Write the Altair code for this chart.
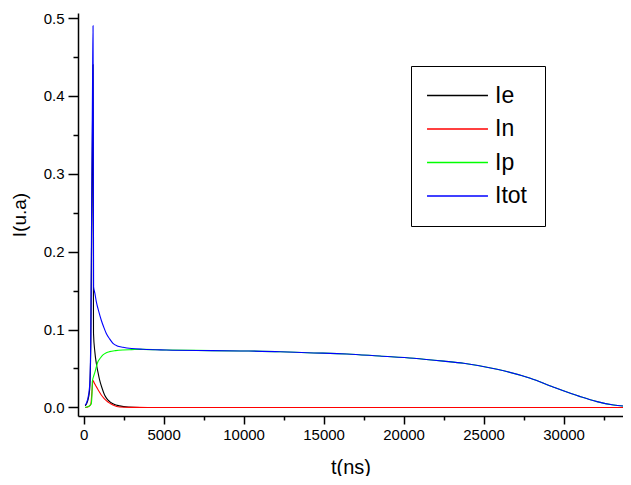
import altair as alt
import pandas as pd

# ---- data ----
t_ie = [100, 250, 375, 450, 500, 560, 590, 605, 620, 700, 794, 900, 1000, 1150, 1312, 1460,
        1625, 1900, 2250, 2800, 3500, 10000, 20000, 34200]
ie = [0.002, 0.008, 0.022, 0.08, 0.22, 0.37, 0.44, 0.25, 0.095, 0.072, 0.0567, 0.045, 0.0353,
      0.025, 0.016, 0.011, 0.0075, 0.004, 0.002, 0.0005, 0.0, 0.0, 0.0, 0.0]

t_in = [100, 300, 450, 520, 585, 700, 794, 950, 1106, 1262, 1419, 1625, 1835, 2250, 3000, 4000,
        10000, 20000, 34200]
inn = [0.0, 0.001, 0.004, 0.02, 0.0344, 0.030, 0.0267, 0.021, 0.016, 0.012, 0.0088, 0.0055,
       0.0032, 0.0006, 0.0001, 0.0, 0.0, 0.0, 0.0]

t_ip = [100, 250, 375, 480, 530, 544, 625, 690, 794, 900, 1050, 1212, 1419, 1625, 2000, 2460,
        3000, 3710, 5170, 8000, 10000, 12294, 14000, 16460, 18500, 20630, 22500, 23750, 25840,
        27920, 29380, 31040, 32090, 33125, 34170]
ip = [0.0, 0.001, 0.002, 0.005, 0.02, 0.033, 0.04, 0.044, 0.052, 0.0589, 0.0635, 0.0674, 0.0702,
      0.0717, 0.073, 0.0738, 0.0742, 0.0746, 0.0738, 0.073, 0.0725, 0.0716, 0.0703, 0.0687,
      0.066, 0.0632, 0.0595, 0.0567, 0.049, 0.0375, 0.026, 0.0139, 0.0075, 0.0032, 0.001]

t_tot = [100, 250, 375, 450, 500, 560, 590, 610, 625, 700, 794, 950, 1106, 1262, 1419, 1625,
         1835, 2100, 2460, 3000, 3710, 5170, 8000, 10000, 12294, 14000, 16460, 18500, 20630,
         22500, 23750, 25840, 27920, 29380, 31040, 32090, 33125, 34170]
itot = [0.003, 0.01, 0.027, 0.09, 0.25, 0.42, 0.49, 0.3, 0.155, 0.147, 0.136, 0.123, 0.112,
        0.103, 0.095, 0.088, 0.0824, 0.079, 0.0773, 0.0757, 0.0747, 0.0738, 0.073, 0.0725,
        0.0716, 0.0703, 0.0687, 0.066, 0.0632, 0.0595, 0.0567, 0.049, 0.0375, 0.026, 0.0139,
        0.0075, 0.0032, 0.001]

series_names = ["Ie", "In", "Ip", "Itot"]
series_colors = ["#000000", "#ff0000", "#00ff00", "#0000ff"]

x_ticks = [i * 2500 for i in range(14)]
y_ticks = [round(i * 0.05, 2) for i in range(11)]

rows = []
for k, (ts, vs) in enumerate([(t_ie, ie), (t_in, inn), (t_ip, ip), (t_tot, itot)]):
    for t, v in zip(ts, vs):
        rows.append({"t": t, "I": v, "series": series_names[k], "order": k})
df = pd.DataFrame(rows)

FONT = "Liberation Sans"

chart = alt.Chart(df).mark_line(strokeWidth=1.1, interpolate="monotone", clip=True).encode(
    x=alt.X("t:Q",
            scale=alt.Scale(domain=[-350, 33712], nice=False, zero=False),
            axis=alt.Axis(title="t(ns)", values=x_ticks, format="d",
                          labelExpr="datum.value % 5000 === 0 ? datum.label : ''",
                          tickSize={"expr": "datum.value % 5000 === 0 ? 8 : 4"},
                          grid=False, domainColor="black", tickColor="black",
                          domainWidth=1.5, tickWidth=1.5,
                          labelFont=FONT, labelFontSize=15, labelColor="black",
                          labelPadding=3, labelOverlap=False, labelFlush=False,
                          titleFont=FONT, titleFontSize=20, titleFontWeight="normal",
                          titleColor="black", titlePadding=15)),
    y=alt.Y("I:Q",
            scale=alt.Scale(domain=[-0.011, 0.5065], nice=False, zero=False),
            axis=alt.Axis(title="I(u.a)", values=y_ticks, format=".1f",
                          labelExpr="abs(datum.value*10 - round(datum.value*10)) < 0.001 ? datum.label : ''",
                          tickSize={"expr": "abs(datum.value*10 - round(datum.value*10)) < 0.001 ? 10 : 5"},
                          grid=False, domainColor="black", tickColor="black",
                          domainWidth=1.5, tickWidth=1.5,
                          labelFont=FONT, labelFontSize=15, labelColor="black",
                          labelPadding=4, labelOverlap=False, labelFlush=False,
                          titleFont=FONT, titleFontSize=19, titleFontWeight="normal",
                          titleColor="black", titlePadding=14)),
    color=alt.Color("series:N",
                    scale=alt.Scale(domain=series_names, range=series_colors),
                    legend=alt.Legend(title=None, orient="none", legendX=333, legendY=53,
                                      symbolType="M-4,0H4", symbolSize=232,
                                      symbolOffset=17,
                                      symbolStrokeWidth=1.3, labelFont=FONT, labelFontSize=23,
                                      labelColor="black", labelOffset=26, rowPadding=9.5,
                                      padding=18, fillColor="white", strokeColor="black",
                                      labelLimit=200)),
    order=alt.Order("order:Q"),
    detail="series:N",
).properties(
    width=545, height=403,
    background="white",
    autosize=alt.AutoSizeParams(type="none"),
    padding={"left": 70, "top": 5, "right": 0, "bottom": 60},
).configure_view(stroke=None)

chart.save("out.html", embed_options={"renderer": "svg", "actions": False})
